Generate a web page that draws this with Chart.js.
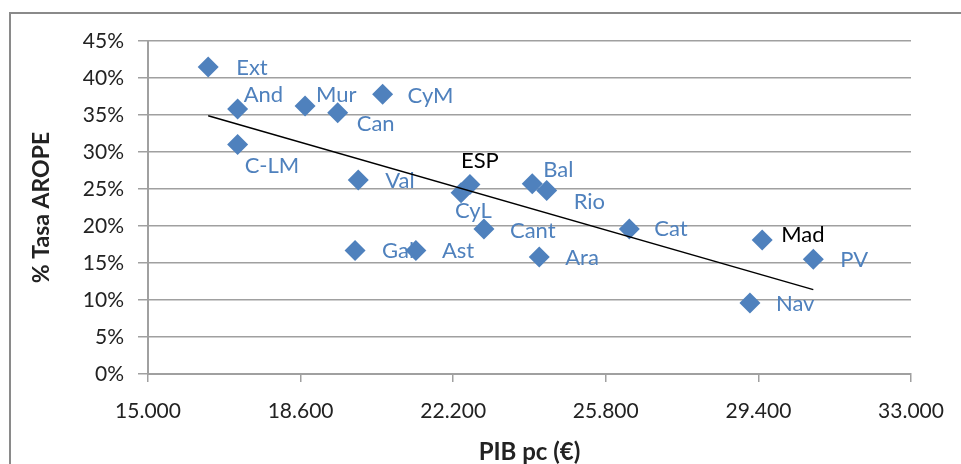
<!DOCTYPE html>
<html>
<head>
<meta charset="utf-8">
<script src="https://cdn.jsdelivr.net/npm/chart.js@4"></script>
<style>
  html, body { margin: 0; padding: 0; background: #fff; }
  #wrap { width: 961px; height: 464px; position: relative; }
</style>
</head>
<body>
<div id="wrap"><canvas id="c" width="961" height="464"></canvas></div>
<script>
// ---- data ----
const regions = ["Ext","And","Mur","Can","CyM","C-LM","Val","ESP","CyL","Bal","Rio","Cant","Gal","Ast","Ara","Cat","Mad","PV","Nav"];
const pibPc   = [16420,17115,18705,19475,20535,17115,19960,22595,22385,24065,24405,22925,19885,21320,24230,26355,29490,30695,29200];
const arope   = [41.5,35.8,36.2,35.3,37.8,31.0,26.2,25.6,24.5,25.7,24.8,19.6,16.7,16.7,15.8,19.6,18.1,15.5,9.6];
const trendX  = [16420, 30695];
const trendY  = [34.9, 11.4];
const xTicks  = [15000,18600,22200,25800,29400,33000];
const yTicks  = [0,5,10,15,20,25,30,35,40,45];

// ---- label styling (offsets from marker in px, colour) ----
const labelOffsets = [[28,1],[6,-14],[11,-11],[19,11],[25,1.5],[7,21],[27,1],[-9,-24],[-6,18],[11,-14],[27,11],[26,2],[27,0],[26,0],[26,1],[25,0],[19,-5],[27,1],[26,1]];
const blackLabels = ["ESP","Mad"];

const BLUE = '#4F81BD';
const GRID = '#a0a0a0';
const FONT = 'Lato, "Open Sans", sans-serif';

const points = regions.map((r,i)=>({x:pibPc[i], y:arope[i]}));
const trend = trendX.map((x,i)=>({x, y:trendY[i]}));

const framePlugin = {
  id: 'frame',
  beforeDraw(chart) {
    const ctx = chart.ctx;
    ctx.save();
    ctx.fillStyle = '#fff';
    ctx.fillRect(0,0,chart.width,chart.height);
    ctx.strokeStyle = '#8a8a8a';
    ctx.lineWidth = 2;
    ctx.strokeRect(10, 13, chart.width + 20, chart.height + 20);
    ctx.restore();
  }
};

const labelPlugin = {
  id: 'pointLabels',
  beforeDatasetsDraw(chart) {
    const ctx = chart.ctx;
    const meta = chart.getDatasetMeta(1);
    ctx.save();
    ctx.font = '22px ' + FONT;
    ctx.textAlign = 'left';
    ctx.textBaseline = 'middle';
    meta.data.forEach((el, i) => {
      const name = regions[i];
      const [dx, dy] = labelOffsets[i];
      ctx.fillStyle = blackLabels.includes(name) ? '#000' : BLUE;
      ctx.fillText(name, el.x + dx, el.y + dy);
    });
    ctx.restore();
  }
};

new Chart(document.getElementById('c'), {
  type: 'scatter',
  data: {
    datasets: [
      {
        type: 'line',
        label: 'Tendencia',
        data: trend,
        borderColor: '#000',
        borderWidth: 1.5,
        pointRadius: 0,
        fill: false,
        order: 0
      },
      {
        label: 'CCAA',
        data: points,
        pointStyle: 'rectRot',
        pointRadius: 10.5,
        pointHoverRadius: 10.5,
        backgroundColor: BLUE,
        borderColor: BLUE,
        borderWidth: 0,
        order: 1
      }
    ]
  },
  options: {
    responsive: false,
    animation: false,
    devicePixelRatio: 1,
    layout: { padding: { left: 0, right: 50, top: 41, bottom: 0 } },
    plugins: { legend: { display: false }, tooltip: { enabled: false } },
    scales: {
      x: {
        type: 'linear',
        min: 15000, max: 33000,
        afterBuildTicks(scale) { scale.ticks = xTicks.map(v => ({value: v})); },
        afterFit(scale) { scale.height = 90; },
        grid: { drawOnChartArea: false, drawTicks: true, tickLength: 8, color: GRID, lineWidth: 1.5 },
        border: { color: GRID, width: 2 },
        ticks: {
          color: '#222', padding: 17,
          font: { family: FONT, size: 21 },
          maxRotation: 0,
          callback: v => v.toLocaleString('de-DE')
        },
        title: {
          display: true, text: 'PIB pc (€)', color: '#222',
          font: { family: FONT, size: 24, weight: 'bold', lineHeight: 1 },
          padding: { top: 0, bottom: 0 }
        }
      },
      y: {
        min: 0, max: 45,
        afterBuildTicks(scale) { scale.ticks = yTicks.map(v => ({value: v})); },
        afterFit(scale) { scale.width = 148; },
        grid: { drawOnChartArea: true, drawTicks: true, tickLength: 10, color: GRID, lineWidth: 1.5 },
        border: { color: GRID, width: 2 },
        ticks: {
          color: '#222', padding: 14,
          font: { family: FONT, size: 21 },
          callback: v => v + '%'
        },
        title: {
          display: true, text: '% Tasa AROPE', color: '#222',
          font: { family: FONT, size: 23, weight: 'bold', lineHeight: 1 },
          padding: { top: 30.5, bottom: 0 }
        }
      }
    }
  },
  plugins: [framePlugin, labelPlugin]
});
</script>
</body>
</html>
